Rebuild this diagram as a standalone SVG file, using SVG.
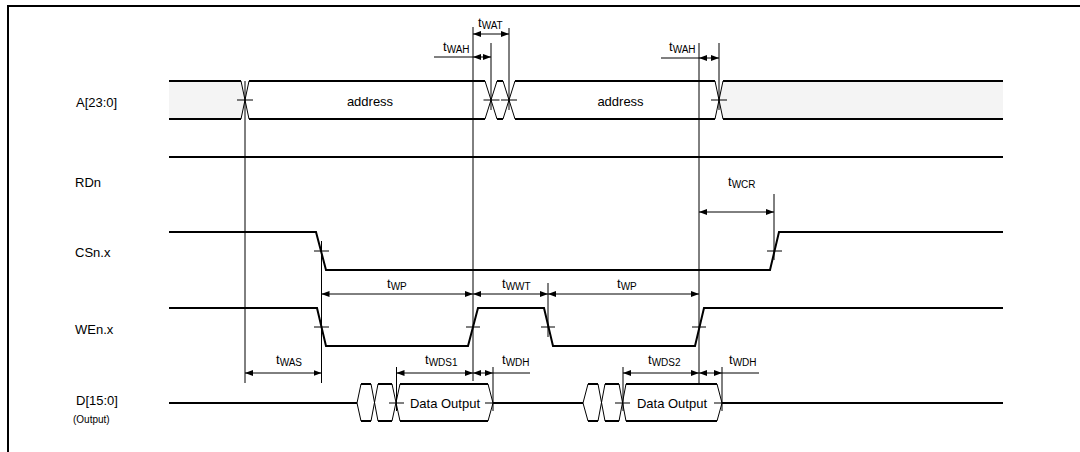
<svg xmlns="http://www.w3.org/2000/svg" width="1080" height="452" viewBox="0 0 1080 452">
<style>
text{font-family:"Liberation Sans",Arial,sans-serif;fill:#000}
.lbl{font-size:13px}
.sm{font-size:10px}
.sig{fill:none;stroke:#000;stroke-width:2}
.thin{fill:none;stroke:#000;stroke-width:1}
.dim{fill:none;stroke:#000;stroke-width:1;marker-start:url(#ah);marker-end:url(#ah)}
.idle{fill:#f4f4f4;stroke:none}
</style>
<defs>
<marker id="ah" viewBox="0 0 8 6" refX="8" refY="3" markerWidth="8" markerHeight="6" orient="auto-start-reverse" markerUnits="userSpaceOnUse"><path d="M0,0 L8,3 L0,6 Z" fill="#000"/></marker>
</defs>
<rect width="1080" height="452" fill="#fff"/>
<path d="M8,452 V6 H1080" fill="none" stroke="#000" stroke-width="2"/>

<g id="labels">
<text class="lbl" x="76" y="106.5">A[23:0]</text>
<text class="lbl" x="75" y="186.5">RDn</text>
<text class="lbl" x="75" y="257">CSn.x</text>
<text class="lbl" x="75" y="334">WEn.x</text>
<text class="lbl" x="76" y="405">D[15:0]</text>
<text class="sm" x="73" y="423">(Output)</text>
</g>

<g id="sig-A">
<path class="idle" d="M169,82 H241 L245,100 L241,118 H169 Z"/>
<path class="idle" d="M1003,82 H723 L719,100 L723,118 H1003 Z"/>
<path class="sig" d="M169,81 H241 M249,81 H485 M497,81 H503 M515,81 H715 M723,81 H1003 M169,119 H241 M249,119 H485 M497,119 H503 M515,119 H715 M723,119 H1003"/>
<path class="thin" d="M241,81 L249,119 M241,119 L249,81 M485,81 L497,119 M485,119 L497,81 M503,81 L515,119 M503,119 L515,81 M715,81 L723,119 M715,119 L723,81"/>
<path class="thin" d="M237,100 H253 M483.5,100 H499.5 M501,100 H517 M711,100 H727"/>
<text class="lbl" x="370" y="105.5" text-anchor="middle">address</text>
<text class="lbl" x="620.5" y="105.5" text-anchor="middle">address</text>
</g>

<g id="sig-RDn">
<path class="sig" d="M169,157 H1003"/>
</g>

<g id="sig-CSn">
<path class="sig" d="M169,232 H316 L326,270 H770 L779,232 H1003"/>
<path class="thin" d="M314,251 H329 M767,251 H782"/>
</g>

<g id="sig-WEn">
<path class="sig" d="M169,308 H317 L326,346 H468 L478,308 H544 L553,346 H695 L704,308 H1003"/>
<path class="thin" d="M314,327 H329 M466,327 H480 M541,327 H555 M692,327 H706"/>
</g>

<g id="sig-D">
<path class="sig" d="M169,403 H357 M493,403 H583 M722,403 H1003 M361,384 H371 M378,384 H392 M400,384 H488 M361,421 H371 M378,421 H392 M400,421 H488 M588,384 H598 M605,384 H619 M626,384 H717 M588,421 H598 M605,421 H619 M626,421 H717"/>
<path class="thin" d="M357,403 L361,384 M357,403 L361,421 M371,384 L378,421 M371,421 L378,384 M392,384 L400,421 M392,421 L400,384 M488,384 L493,403 L488,421 M583,403 L588,384 M583,403 L588,421 M598,384 L605,421 M598,421 L605,384 M619,384 L626,421 M619,421 L626,384 M717,384 L722,403 L717,421"/>
<path class="thin" d="M389,403 H404 M485,403 H493 M615,403 H630 M714,403 H722"/>
<text class="lbl" x="445" y="407.5" text-anchor="middle">Data Output</text>
<text class="lbl" x="672" y="407.5" text-anchor="middle">Data Output</text>
</g>

<g id="connectors">
<path class="thin" d="M245,81 V383 M321.5,241 V383 M473,27 V381 M491,43 V110 M509,28 V110 M548,283 V337 M699,43 V383 M719,43 V110 M774,194 V260 M396.5,367 V411 M493,367 V411 M623,367 V411 M722,367 V411"/>
<path class="thin" d="M434,57 H473 M661,58 H699 M493,373 H530 M722,373 H759"/>
<path class="dim" d="M473,34 H509"/>
<path class="dim" d="M473,57 H491"/>
<path class="dim" d="M699,58 H719"/>
<path class="dim" d="M699,212 H774"/>
<path class="dim" d="M321.5,294 H473"/>
<path class="dim" d="M473,294 H548"/>
<path class="dim" d="M548,294 H699"/>
<path class="dim" d="M245,373 H321.5"/>
<path class="dim" d="M396.5,373 H473"/>
<path class="dim" d="M473,373 H493"/>
<path class="dim" d="M623,373 H699"/>
<path class="dim" d="M699,373 H722"/>
<text class="lbl" x="478" y="27">t<tspan class="sm" dy="2">WAT</tspan></text>
<text class="lbl" x="443" y="51">t<tspan class="sm" dy="2">WAH</tspan></text>
<text class="lbl" x="669" y="51">t<tspan class="sm" dy="2">WAH</tspan></text>
<text class="lbl" x="728" y="186">t<tspan class="sm" dy="2">WCR</tspan></text>
<text class="lbl" x="387" y="288">t<tspan class="sm" dy="2">WP</tspan></text>
<text class="lbl" x="502" y="288">t<tspan class="sm" dy="2">WWT</tspan></text>
<text class="lbl" x="617" y="288">t<tspan class="sm" dy="2">WP</tspan></text>
<text class="lbl" x="276" y="364">t<tspan class="sm" dy="2">WAS</tspan></text>
<text class="lbl" x="425" y="364">t<tspan class="sm" dy="2">WDS1</tspan></text>
<text class="lbl" x="502" y="364">t<tspan class="sm" dy="2">WDH</tspan></text>
<text class="lbl" x="648" y="364">t<tspan class="sm" dy="2">WDS2</tspan></text>
<text class="lbl" x="729" y="364">t<tspan class="sm" dy="2">WDH</tspan></text>
</g>
</svg>
